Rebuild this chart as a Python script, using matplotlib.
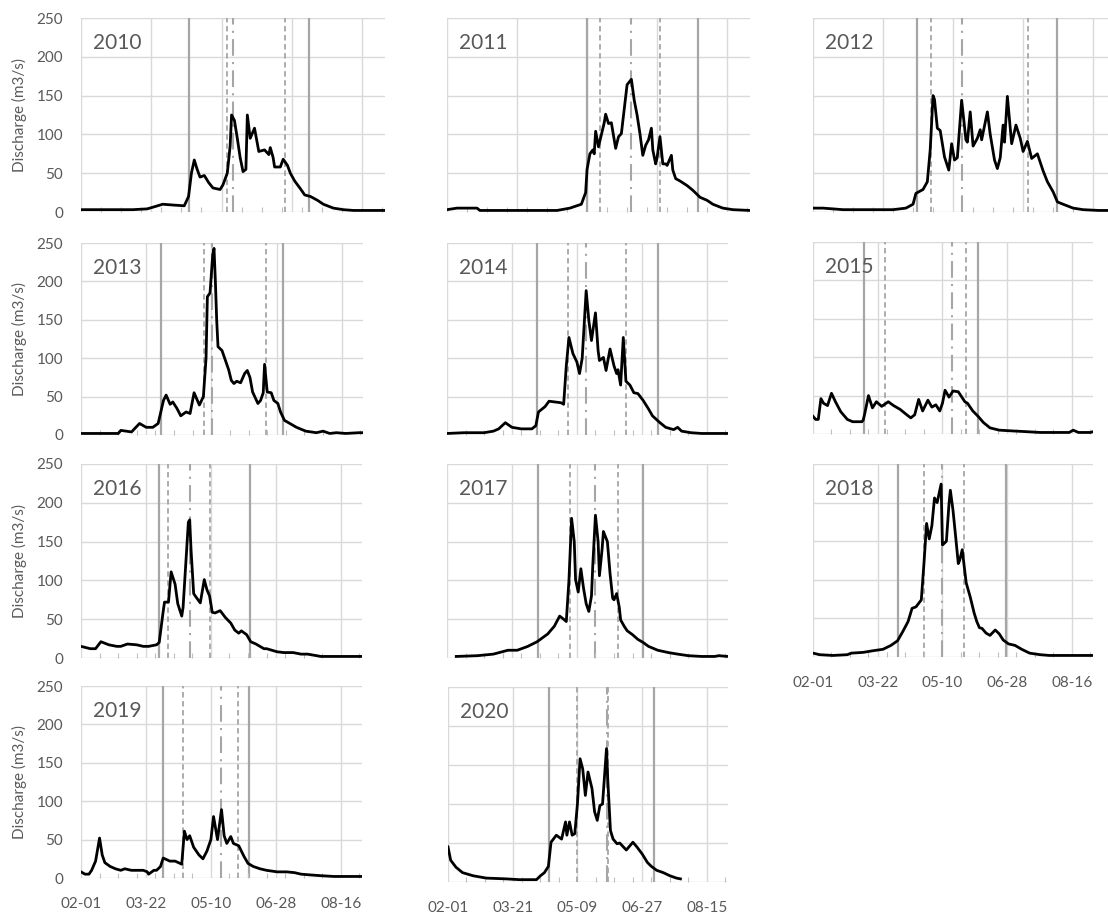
import datetime as dt

import matplotlib
matplotlib.use('Agg')
import matplotlib.pyplot as plt
from matplotlib.ticker import FixedLocator, MultipleLocator

plt.rcParams['font.family'] = ['Lato', 'DejaVu Sans']

# ── daily discharge (day 0 = 1 Feb), m3/s ─────────────────────────────────
DAY_2010 = [0, 13, 36, 46, 48, 57, 64, 72, 75, 77, 79, 81, 83, 86, 89, 92, 97, 99, 102, 104,
            105, 107, 109, 111, 113, 115, 116, 118, 121, 124, 128, 131, 132, 134, 135, 139, 141,
            144, 146, 149, 153, 156, 160, 165, 169, 176, 183, 190, 212]
Q_2010 = [3, 3, 3, 4, 5, 10, 9, 8, 20, 50, 67, 55, 45, 47, 38, 31, 29, 35, 50, 85,
          125, 118, 95, 70, 52, 55, 125, 95, 108, 78, 80, 74, 83, 70, 58, 58, 68,
          60, 50, 40, 30, 22, 20, 15, 10, 5, 3, 2, 2]

DAY_2011 = [0, 7, 21, 23, 77, 86, 94, 97, 98, 100, 102, 103, 104, 106, 110, 111, 113, 115, 118,
            120, 122, 126, 129, 131, 133, 135, 137, 139, 141, 143, 144, 146, 147, 149, 151, 153,
            154, 157, 158, 160, 163, 168, 172, 177, 182, 186, 193, 200, 212]
Q_2011 = [3, 5, 5, 2, 2, 5, 10, 25, 55, 75, 80, 75, 104, 84, 115, 126, 114, 115, 82,
          97, 101, 164, 171, 144, 125, 101, 73, 86, 93, 108, 80, 62, 70, 97, 62, 62,
          60, 73, 54, 43, 40, 34, 28, 19, 15, 10, 5, 3, 2]

DAY_2012 = [0, 7, 21, 56, 65, 70, 72, 77, 80, 82, 84, 85, 87, 89, 92, 95, 97, 99, 101, 104,
            107, 108, 110, 112, 115, 117, 118, 122, 124, 127, 129, 131, 133, 134, 136, 139, 142,
            145, 147, 150, 153, 157, 161, 164, 168, 171, 175, 182, 189, 200, 212]
Q_2012 = [5, 5, 3, 3, 5, 10, 24, 29, 39, 80, 150, 145, 108, 105, 71, 54, 88, 67, 70, 144,
          93, 90, 129, 85, 95, 106, 93, 129, 100, 67, 56, 70, 112, 90, 149, 88, 112,
          95, 78, 91, 69, 75, 53, 39, 26, 13, 10, 5, 3, 2, 2]

DAY_2013 = [0, 28, 30, 38, 44, 49, 54, 58, 60, 62, 64, 67, 69, 72, 75, 79, 82, 85, 89, 92,
            94, 95, 97, 99, 100, 101, 102, 103, 106, 109, 111, 113, 115, 117, 120, 123, 125,
            127, 129, 133, 135, 137, 138, 140, 143, 145, 148, 150, 153, 157, 162, 169, 177,
            182, 187, 192, 199, 209, 212]
Q_2013 = [2, 2, 6, 4, 15, 10, 10, 15, 30, 45, 52, 40, 43, 35, 25, 30, 28, 55, 39, 50,
          100, 180, 185, 234, 243, 201, 150, 115, 110, 95, 85, 71, 67, 70, 68, 80, 84,
          75, 56, 41, 45, 55, 92, 56, 55, 45, 41, 30, 19, 15, 10, 5, 3,
          5, 2, 3, 2, 3, 3]

DAY_2014 = [0, 13, 28, 35, 39, 44, 49, 56, 64, 67, 69, 74, 77, 86, 88, 90, 92, 95, 98, 100,
            102, 105, 107, 109, 112, 114, 115, 118, 120, 123, 126, 128, 129, 131, 133, 135, 138,
            141, 144, 148, 152, 155, 160, 165, 171, 174, 177, 184, 192, 212]
Q_2014 = [2, 3, 3, 5, 8, 16, 10, 8, 8, 12, 30, 37, 44, 42, 40, 90, 127, 106, 95, 80,
          100, 188, 149, 123, 159, 110, 97, 101, 84, 112, 90, 80, 85, 65, 127, 70, 65,
          55, 54, 45, 34, 25, 17, 10, 7, 10, 5, 3, 2, 2]

DAY_2015 = [0, 2, 4, 6, 8, 11, 14, 17, 21, 26, 30, 37, 38, 39, 42, 45, 48, 52, 57, 61,
            66, 71, 74, 77, 80, 83, 87, 90, 93, 96, 98, 100, 103, 106, 110, 115, 117, 121,
            125, 129, 134, 141, 151, 162, 172, 194, 197, 201, 210, 212]
Q_2015 = [23, 19, 19, 46, 40, 37, 53, 42, 29, 19, 16, 16, 18, 25, 50, 34, 42, 36, 42, 37,
          32, 25, 21, 25, 45, 30, 44, 35, 38, 30, 40, 57, 48, 56, 55, 42, 40, 30,
          23, 15, 8, 5, 4, 3, 2, 2, 5, 2, 2, 3]

DAY_2016 = [0, 7, 11, 15, 21, 27, 30, 35, 42, 47, 51, 57, 59, 62, 63, 66, 68, 71, 73, 76,
            77, 79, 81, 82, 83, 85, 87, 90, 93, 95, 97, 99, 101, 105, 109, 113, 116, 119,
            121, 125, 128, 132, 138, 140, 148, 153, 160, 166, 171, 181, 191, 212]
Q_2016 = [15, 12, 12, 21, 17, 15, 15, 18, 17, 15, 15, 17, 20, 60, 72, 72, 111, 95, 70, 54,
          65, 120, 175, 178, 140, 83, 78, 71, 101, 88, 80, 59, 58, 61, 52, 45, 36, 32,
          35, 30, 21, 18, 12, 12, 8, 7, 7, 5, 5, 2, 2, 2]

DAY_2017 = [7, 23, 35, 46, 53, 61, 68, 76, 81, 85, 88, 90, 92, 94, 96, 97, 99, 101, 103, 105,
            107, 109, 110, 112, 114, 115, 117, 118, 121, 123, 125, 126, 128, 130, 131, 134, 136,
            140, 144, 148, 152, 159, 167, 174, 182, 192, 202, 205, 212]
Q_2017 = [2, 3, 5, 10, 10, 15, 21, 31, 41, 54, 50, 47, 100, 180, 150, 101, 85, 115, 90, 70,
          60, 80, 120, 184, 150, 106, 140, 163, 150, 109, 77, 75, 83, 65, 49, 40, 35,
          30, 24, 20, 15, 10, 7, 5, 3, 2, 2, 3, 2]

DAY_2018 = [0, 5, 15, 26, 29, 38, 45, 53, 59, 64, 68, 72, 75, 78, 82, 84, 86, 88, 90, 92,
            94, 97, 98, 101, 103, 104, 106, 108, 110, 111, 113, 115, 116, 119, 122, 124, 126,
            128, 131, 134, 138, 141, 144, 148, 153, 158, 164, 172, 179, 212]
Q_2018 = [5, 3, 2, 3, 5, 6, 8, 10, 15, 21, 33, 46, 63, 65, 74, 121, 173, 153, 170, 206,
          200, 224, 145, 150, 199, 216, 190, 156, 121, 125, 139, 110, 96, 78, 57, 46, 38,
          37, 31, 28, 35, 30, 22, 17, 15, 10, 5, 3, 2, 2]

DAY_2019 = [0, 3, 6, 8, 11, 14, 16, 18, 22, 26, 30, 33, 38, 47, 50, 51, 55, 57, 60, 62,
            67, 71, 76, 78, 80, 82, 85, 89, 92, 95, 98, 100, 103, 106, 108, 110, 113, 115,
            119, 123, 126, 130, 135, 140, 148, 155, 161, 166, 173, 181, 191, 212]
Q_2019 = [8, 5, 5, 10, 22, 52, 30, 20, 15, 12, 10, 12, 10, 10, 8, 5, 10, 10, 15, 26,
          22, 22, 18, 61, 50, 55, 40, 30, 25, 35, 50, 80, 50, 89, 55, 45, 54, 45,
          42, 28, 19, 15, 12, 10, 8, 8, 7, 5, 4, 3, 2, 2]

DAY_2020 = [0, 2, 6, 11, 19, 29, 44, 54, 67, 70, 73, 76, 78, 82, 86, 89, 90, 92, 94, 96,
            98, 100, 102, 104, 106, 109, 111, 113, 115, 117, 120, 121, 123, 125, 128, 130, 135,
            140, 143, 147, 151, 154, 158, 163, 168, 173, 176]
Q_2020 = [45, 28, 19, 12, 8, 5, 4, 3, 3, 8, 12, 20, 51, 60, 55, 77, 60, 77, 60, 62,
          100, 158, 145, 111, 141, 120, 90, 79, 98, 100, 171, 130, 66, 55, 49, 50, 41,
          51, 45, 36, 25, 20, 15, 12, 8, 5, 4]

YEARS = [2010, 2011, 2012, 2013, 2014, 2015, 2016, 2017, 2018, 2019, 2020]
# timing markers (days after 1 Feb)
SOLID_DAYS = [(75, 159), (98, 175.5), (73, 170.6), (60, 152), (67.7, 159), (38.6, 125),
              (59.2, 127.7), (68.7, 147.7), (64.4, 146.5), (61.7, 126.4), (76.7, 155.7)]
DASHED_DAYS = [(101.7, 142.5), (107.2, 149.2), (82.8, 150.3), (92.5, 139.3), (91.4, 135),
               (54.3, 116.2), (66, 97.5), (93, 129.3), (84, 114.4), (76.8, 118.1), (97.5, 121.5)]
DASHDOT_DAYS = [105.7, 128.9, 104.4, 98.8, 104.8, 105.3, 81.9, 111.9, 97.7, 105.5, 120.3]

Y_TICKS = [0, 50, 100, 150, 200, 250]
X_TICK_DAYS = [0, 49, 98, 147, 196]

SERIES = {
    2010: (DAY_2010, Q_2010), 2011: (DAY_2011, Q_2011), 2012: (DAY_2012, Q_2012),
    2013: (DAY_2013, Q_2013), 2014: (DAY_2014, Q_2014), 2015: (DAY_2015, Q_2015),
    2016: (DAY_2016, Q_2016), 2017: (DAY_2017, Q_2017), 2018: (DAY_2018, Q_2018),
    2019: (DAY_2019, Q_2019), 2020: (DAY_2020, Q_2020),
}

# panel boxes in pixels: left, top, right, bottom
W, H = 1108, 916
BOXES = {
    2010: (81, 18, 385, 212), 2011: (447, 18, 750, 212), 2012: (813, 18, 1116, 212),
    2013: (81, 243, 363, 435), 2014: (447, 243, 728, 435), 2015: (813, 242, 1093, 434),
    2016: (81, 464, 362, 658), 2017: (447, 464, 728, 658), 2018: (813, 464, 1093, 657),
    2019: (81, 686, 362, 878), 2020: (448, 687, 728, 882),
}
LEFT_COL = {2010, 2013, 2016, 2019}
BOTTOM = {2018, 2019, 2020}

TXT = '#595959'
GRID = '#D9D9D9'
MARK = '#A6A6A6'

fig = plt.figure(figsize=(W / 100, H / 100), dpi=100)

for i, year in enumerate(YEARS):
    l, t, r, b = BOXES[year]
    ax = fig.add_axes([l / W, 1 - b / H, (r - l) / W, (b - t) / H])
    days, q = SERIES[year]

    ax.set_xlim(0, 212)
    ax.set_ylim(0, 250)
    for s in ax.spines.values():
        s.set_visible(False)

    # gridlines
    for y in Y_TICKS:
        ax.axhline(y, color=GRID, lw=1.0, zorder=0)
    for d in X_TICK_DAYS:
        ax.axvline(d, color=GRID, lw=1.0, zorder=0)

    # timing markers
    for d in SOLID_DAYS[i]:
        ax.axvline(d, color=MARK, lw=1.6, zorder=1)
    for d in DASHED_DAYS[i]:
        ax.axvline(d, color=MARK, lw=1.3, ls=(0, (3, 2)), zorder=1)
    ax.axvline(DASHDOT_DAYS[i], color=MARK, lw=1.5, ls=(0, (8, 3, 1, 3)), zorder=1)

    ax.plot(days, q, color='black', lw=2.0, zorder=3, solid_joinstyle='round')

    ax.annotate(str(year), xy=(0, 1), xycoords='axes fraction', xytext=(9, -18),
                textcoords='offset points', ha='left', va='center', fontsize=15, color=TXT)

    ax.yaxis.set_major_locator(FixedLocator(Y_TICKS))
    ax.xaxis.set_major_locator(FixedLocator(X_TICK_DAYS))
    ax.xaxis.set_minor_locator(MultipleLocator(14))
    ax.tick_params(axis='both', which='major', length=0, colors=TXT, labelsize=11)
    ax.tick_params(axis='y', pad=13)
    ax.tick_params(axis='x', pad=14)
    ax.tick_params(axis='x', which='minor', direction='in', length=3.5, width=0.8,
                   color='#BFBFBF')
    ax.tick_params(axis='y', which='minor', length=0)

    if year in LEFT_COL:
        ax.set_ylabel('Discharge (m3/s)', fontsize=11, color=TXT)
        ax.yaxis.set_label_coords((27 - l) / (r - l), 0.5)
    else:
        ax.set_yticklabels([])

    if year in BOTTOM:
        start = dt.date(year, 2, 1)
        ax.set_xticklabels([(start + dt.timedelta(days=d)).strftime('%m-%d')
                            for d in X_TICK_DAYS])
    else:
        ax.set_xticklabels([])

fig.savefig('out.png', dpi=100, facecolor='white')
